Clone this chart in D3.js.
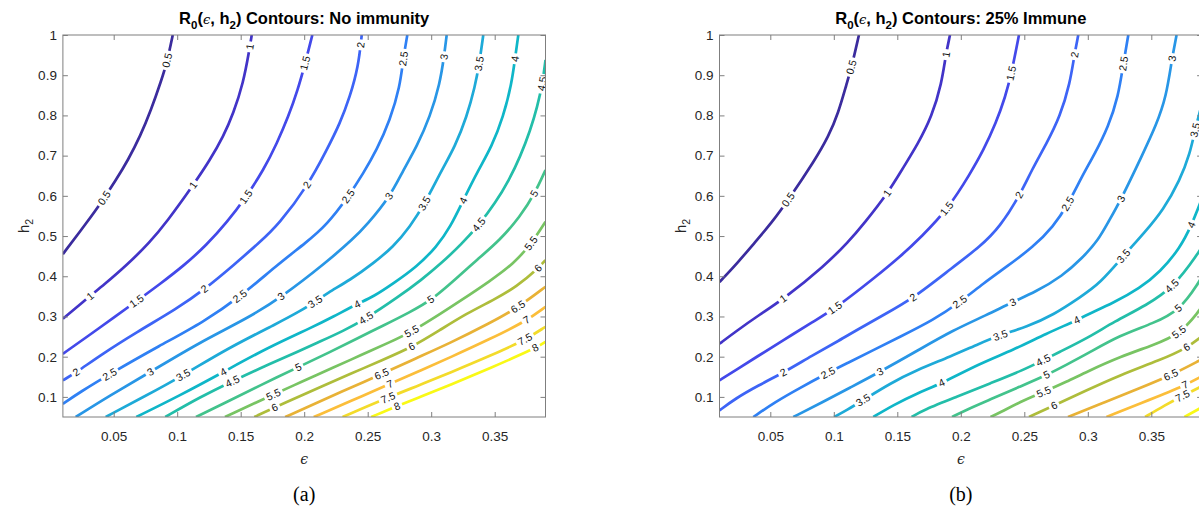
<!DOCTYPE html>
<html><head><meta charset="utf-8">
<script src="https://cdn.jsdelivr.net/npm/d3@7"></script>
<style>body{margin:0;background:#fff;} svg{display:block;}</style>
</head><body>
<svg id="chart" width="1199" height="509"></svg>
<script>
// ---------- data ----------
const contourLevels = [0.5,1,1.5,2,2.5,3,3.5,4,4.5,5,5.5,6,6.5,7,7.5,8];
const epsTicks = [0.05,0.1,0.15,0.2,0.25,0.3,0.35];
const epsTickLabels = ["0.05","0.1","0.15","0.2","0.25","0.3","0.35"];
const hTicks = [0.1,0.2,0.3,0.4,0.5,0.6,0.7,0.8,0.9,1];
const hTickLabels = ["0.1","0.2","0.3","0.4","0.5","0.6","0.7","0.8","0.9","1"];
const epsDomain = [0.01,0.39];
const hDomain = [0.05,1];
const panelTitles = ["No immunity","25% Immune"];
const panelTags = ["(a)","(b)"];

// contour lines [epsilon, h2], one array per level
const noImmunityLines = [
 [[0.0965,1.0],[0.0921,0.9336],[0.0876,0.8881],[0.0794,0.8134],[0.0707,0.7470],[0.0613,0.6891],[0.0518,0.6393],[0.0398,0.5813],[0.0293,0.5356],[0.0100,0.4552]],
 [[0.1587,1.0],[0.1568,0.9627],[0.1520,0.8799],[0.1442,0.8052],[0.1363,0.7470],[0.1258,0.6891],[0.1127,0.6269],[0.0917,0.5348],[0.0786,0.4851],[0.0602,0.4271],[0.0418,0.3774],[0.0313,0.3507],[0.0100,0.2943]],
 [[0.2064,1.0],[0.2008,0.9296],[0.1949,0.8632],[0.1874,0.7960],[0.1786,0.7313],[0.1680,0.6642],[0.1542,0.5970],[0.1394,0.5348],[0.1231,0.4776],[0.1058,0.4279],[0.0864,0.3806],[0.0681,0.3383],[0.0524,0.3027],[0.0287,0.2488],[0.0100,0.2072]],
 [[0.2453,1.0],[0.2426,0.9211],[0.2360,0.8465],[0.2282,0.7803],[0.2177,0.7139],[0.2032,0.6269],[0.1796,0.5274],[0.1652,0.4851],[0.1442,0.4271],[0.1219,0.3682],[0.0996,0.3192],[0.0681,0.2612],[0.0392,0.2032],[0.0209,0.1617],[0.0100,0.1410]],
 [[0.2812,1.0],[0.2780,0.9420],[0.2754,0.8714],[0.2676,0.7886],[0.2571,0.7139],[0.2465,0.6560],[0.2347,0.5978],[0.2177,0.5274],[0.2020,0.4851],[0.1783,0.4271],[0.1494,0.3483],[0.1206,0.2861],[0.0865,0.2281],[0.0471,0.1575],[0.0235,0.1119],[0.0100,0.0828]],
 [[0.3122,1.0],[0.3101,0.9460],[0.3069,0.8798],[0.2991,0.7968],[0.2886,0.7221],[0.2780,0.6642],[0.2676,0.5978],[0.2492,0.5274],[0.2387,0.4933],[0.2177,0.4353],[0.1823,0.3483],[0.1547,0.2943],[0.1180,0.2363],[0.0787,0.1617],[0.0471,0.1037],[0.0201,0.05]],
 [[0.3410,1.0],[0.3379,0.9296],[0.3345,0.8714],[0.3280,0.7968],[0.3187,0.7221],[0.3083,0.6642],[0.2951,0.5813],[0.2833,0.5231],[0.2702,0.4734],[0.2544,0.4321],[0.2361,0.3905],[0.2177,0.3575],[0.2085,0.3358],[0.1967,0.3134],[0.1809,0.2861],[0.1390,0.2197],[0.1048,0.1535],[0.0733,0.0995],[0.0437,0.05]],
 [[0.3686,1.0],[0.3660,0.9420],[0.3634,0.8798],[0.3568,0.7968],[0.3476,0.7221],[0.3371,0.6642],[0.3253,0.5896],[0.3152,0.5231],[0.3043,0.4734],[0.2886,0.4236],[0.2702,0.3823],[0.2544,0.3490],[0.2413,0.3308],[0.2229,0.2993],[0.2072,0.2744],[0.1705,0.2214],[0.1363,0.1617],[0.1022,0.1037],[0.0678,0.05]],
 [[0.39,0.9378],[0.3877,0.8806],[0.3835,0.8209],[0.3781,0.7637],[0.3700,0.6965],[0.3613,0.6393],[0.3505,0.5821],[0.3375,0.5274],[0.3247,0.4826],[0.3082,0.4328],[0.2921,0.3905],[0.2740,0.3483],[0.2477,0.2928],[0.2306,0.2637],[0.2124,0.2376],[0.1967,0.2152],[0.1691,0.1766],[0.1432,0.1386],[0.1180,0.0995],[0.0906,0.05]],
 [[0.39,0.6642],[0.3817,0.6062],[0.3699,0.5480],[0.3542,0.4900],[0.3358,0.4403],[0.3201,0.3955],[0.3004,0.3408],[0.2833,0.3109],[0.2623,0.2774],[0.2413,0.2450],[0.2203,0.2114],[0.1954,0.1741],[0.1652,0.1286],[0.1390,0.0871],[0.1148,0.05]],
 [[0.39,0.5356],[0.3791,0.4818],[0.3646,0.4303],[0.3463,0.3881],[0.3227,0.3383],[0.3069,0.3060],[0.2846,0.2619],[0.2676,0.2363],[0.2439,0.2027],[0.2229,0.1729],[0.1967,0.1356],[0.1757,0.1062],[0.1376,0.05]],
 [[0.39,0.4403],[0.3843,0.4197],[0.3673,0.3739],[0.3489,0.3408],[0.3280,0.3077],[0.3069,0.2662],[0.2846,0.2231],[0.2623,0.1928],[0.2361,0.1567],[0.2124,0.1244],[0.1967,0.1020],[0.1770,0.0746],[0.1607,0.05]],
 [[0.39,0.3739],[0.3686,0.3226],[0.3463,0.2836],[0.3148,0.2338],[0.2872,0.1950],[0.2610,0.1567],[0.2282,0.1112],[0.2046,0.0776],[0.1850,0.05]],
 [[0.39,0.3241],[0.3752,0.2893],[0.3463,0.2438],[0.3148,0.1980],[0.2912,0.1652],[0.2676,0.1326],[0.2361,0.0888],[0.2075,0.05]],
 [[0.39,0.2744],[0.3739,0.2413],[0.3463,0.2020],[0.3148,0.1602],[0.2912,0.1296],[0.2662,0.0988],[0.2302,0.05]],
 [[0.39,0.2371],[0.3818,0.2206],[0.3463,0.1714],[0.3148,0.1296],[0.2912,0.0998],[0.2728,0.0771],[0.2528,0.05]]
];
const noImmunityLabels = [
 [[0.0917,0.9378],[0.0431,0.5938]],
 [[0.1568,0.9709],[0.1127,0.6269],[0.0313,0.3507]],
 [[0.2006,0.9296],[0.1534,0.5978],[0.0681,0.3383]],
 [[0.2453,0.9751],[0.2032,0.6269],[0.1219,0.3682],[0.0209,0.1617]],
 [[0.2780,0.9420],[0.2347,0.5978],[0.1494,0.3483],[0.0465,0.1575]],
 [[0.3101,0.9460],[0.2676,0.5978],[0.1823,0.3483],[0.0787,0.1617]],
 [[0.3379,0.9296],[0.2951,0.5813],[0.2085,0.3358],[0.1048,0.1535]],
 [[0.3660,0.9420],[0.3253,0.5896],[0.2413,0.3308],[0.1363,0.1617]],
 [[0.3857,0.8799],[0.3384,0.5274],[0.2492,0.2928],[0.1432,0.1386]],
 [[0.3817,0.6062],[0.3004,0.3408],[0.1954,0.1741]],
 [[0.3791,0.4818],[0.2846,0.2619],[0.1757,0.1062]],
 [[0.3843,0.4197],[0.2846,0.2231],[0.1770,0.0746]],
 [[0.3686,0.3226],[0.2610,0.1567]],
 [[0.3752,0.2893],[0.2676,0.1326]],
 [[0.3739,0.2413],[0.2662,0.0988]],
 [[0.3818,0.2206],[0.2728,0.0771]]
];
const immuneLines = [
 [[0.1198,1.0],[0.1141,0.9211],[0.1102,0.8799],[0.1035,0.8052],[0.0957,0.7470],[0.0852,0.6891],[0.0642,0.5896],[0.0506,0.5311],[0.0380,0.4851],[0.0248,0.4353],[0.0100,0.3856]],
 [[0.1915,1.0],[0.1881,0.9502],[0.1850,0.8799],[0.1771,0.7968],[0.1665,0.7306],[0.1535,0.6642],[0.1424,0.6062],[0.1238,0.5311],[0.1114,0.4851],[0.0931,0.4271],[0.0602,0.3425],[0.0406,0.3027],[0.0222,0.2612],[0.0100,0.2321]],
 [[0.2458,1.0],[0.2399,0.9047],[0.2351,0.8465],[0.2276,0.7803],[0.2179,0.7139],[0.2076,0.6560],[0.1899,0.5672],[0.1690,0.4983],[0.1522,0.4485],[0.1331,0.3988],[0.1009,0.3192],[0.0831,0.2861],[0.0601,0.2405],[0.0390,0.1990],[0.0243,0.1699],[0.0100,0.1410]],
 [[0.2925,1.0],[0.2894,0.9502],[0.2860,0.8799],[0.2781,0.7968],[0.2676,0.7306],[0.2558,0.6642],[0.2466,0.6020],[0.2309,0.5231],[0.2151,0.4734],[0.1941,0.4236],[0.1626,0.3450],[0.1390,0.3035],[0.1180,0.2662],[0.1049,0.2413],[0.0828,0.2027],[0.0602,0.1600],[0.0406,0.1286],[0.0222,0.0953],[0.0100,0.0664]],
 [[0.3319,1.0],[0.3280,0.9296],[0.3240,0.8465],[0.3161,0.7719],[0.3057,0.7057],[0.2952,0.6475],[0.2846,0.5796],[0.2728,0.5231],[0.2571,0.4734],[0.2361,0.4236],[0.2177,0.3823],[0.1994,0.3358],[0.1783,0.2910],[0.1521,0.2495],[0.1311,0.2164],[0.1102,0.1833],[0.0957,0.1604],[0.0720,0.1201],[0.0537,0.0871],[0.0366,0.05]],
 [[0.3699,1.0],[0.3663,0.9420],[0.3618,0.8465],[0.3539,0.7761],[0.3429,0.7015],[0.3264,0.5920],[0.3161,0.5348],[0.3083,0.4900],[0.2957,0.4453],[0.2800,0.4005],[0.2587,0.3607],[0.2406,0.3358],[0.2204,0.3035],[0.1941,0.2662],[0.1653,0.2139],[0.1364,0.1624],[0.1128,0.1231],[0.0905,0.0858],[0.0681,0.05]],
 [[0.39,0.8308],[0.3844,0.7637],[0.3805,0.7057],[0.3726,0.6393],[0.3594,0.5647],[0.3450,0.5100],[0.3280,0.4502],[0.3096,0.3823],[0.2945,0.3490],[0.2728,0.3035],[0.2519,0.2744],[0.2309,0.2537],[0.2151,0.2331],[0.1915,0.1998],[0.1653,0.1667],[0.1443,0.1336],[0.1232,0.0920],[0.1102,0.0672],[0.1002,0.05]],
 [[0.39,0.5945],[0.3818,0.5274],[0.3726,0.4701],[0.3569,0.4104],[0.3411,0.3706],[0.3201,0.3333],[0.2986,0.3035],[0.2913,0.2903],[0.2676,0.2580],[0.2413,0.2164],[0.2151,0.1833],[0.1850,0.1336],[0.1653,0.1087],[0.1469,0.0796],[0.1311,0.05]],
 [[0.39,0.4751],[0.3876,0.4602],[0.3673,0.3719],[0.3464,0.3284],[0.3201,0.2861],[0.3017,0.2495],[0.2755,0.2082],[0.2650,0.1915],[0.2492,0.1667],[0.2230,0.1336],[0.1968,0.1002],[0.1705,0.0672],[0.1613,0.05]],
 [[0.39,0.4005],[0.3876,0.3856],[0.3726,0.3159],[0.3516,0.2828],[0.3254,0.2537],[0.2991,0.2065],[0.2834,0.1803],[0.2676,0.1542],[0.2466,0.1256],[0.2230,0.0933],[0.2046,0.0684],[0.1931,0.05]],
 [[0.39,0.3259],[0.3876,0.3134],[0.3726,0.2562],[0.3516,0.2289],[0.3254,0.1998],[0.2991,0.1624],[0.2834,0.1376],[0.2650,0.1119],[0.2466,0.0878],[0.2309,0.0609],[0.2234,0.05]],
 [[0.39,0.2512],[0.3780,0.2214],[0.3569,0.1915],[0.3254,0.1542],[0.2978,0.1144],[0.2734,0.0784],[0.2537,0.05]],
 [[0.39,0.1940],[0.3655,0.1535],[0.3411,0.1219],[0.3136,0.0871],[0.2844,0.05]],
 [[0.39,0.1517],[0.3765,0.1286],[0.3490,0.0933],[0.3147,0.05]],
 [[0.39,0.1269],[0.3742,0.1020],[0.3608,0.0796],[0.3451,0.05]],
 [[0.39,0.0746],[0.3761,0.05]]
];
const immuneLabels = [
 [[0.1141,0.9211],[0.0642,0.5896]],
 [[0.1881,0.9502],[0.1424,0.6062],[0.0602,0.3425]],
 [[0.2395,0.9047],[0.1899,0.5672],[0.1009,0.3192]],
 [[0.2894,0.9502],[0.2466,0.6020],[0.1626,0.3450],[0.0602,0.1600]],
 [[0.3280,0.9296],[0.2846,0.5796],[0.1994,0.3358],[0.0957,0.1604]],
 [[0.3663,0.9420],[0.3264,0.5920],[0.2406,0.3358],[0.1364,0.1624]],
 [[0.3844,0.7637],[0.3280,0.4502],[0.2309,0.2537],[0.1232,0.0920]],
 [[0.3818,0.5274],[0.2913,0.2903],[0.1850,0.1336]],
 [[0.3673,0.3719],[0.2650,0.1915]],
 [[0.3726,0.3159],[0.2676,0.1542]],
 [[0.3726,0.2562],[0.2650,0.1119]],
 [[0.3780,0.2214],[0.2734,0.0784]],
 [[0.3655,0.1535]],
 [[0.3765,0.1286]],
 [[0.3742,0.1020]],
 []
];

// ---------- style ----------
const levelColors = ["#3b2c9e","#4234c8","#4349ea","#3d64f6","#2f80f4","#2896e6","#1eaad8","#0fb6c8",
                     "#23bea9","#43c38c","#78c463","#aebd3b","#e8b236","#fbbe3a","#f3db2a","#f9f916"];
const axisColor = "#7f7f7f", textColor = "#262626";
const plotW = 482.6, plotTop = 35, plotBottom = 417;
const panelLefts = [62.9, 719.5];

const svg = d3.select("#chart");
const defs = svg.append("defs");

// nearest point on a rendered path (sampled), with tangent angle
function nearestOnPath(node, p){
  const L = node.getTotalLength();
  let best = {d: Infinity, s: 0};
  for(let s=0; s<=L; s+=1){
    const q = node.getPointAtLength(s);
    const d = Math.hypot(q.x-p[0], q.y-p[1]);
    if(d < best.d) best = {d, s, x:q.x, y:q.y};
  }
  const a = node.getPointAtLength(Math.max(0, best.s-4));
  const b = node.getPointAtLength(Math.min(L, best.s+4));
  best.ang = Math.atan2(b.y-a.y, b.x-a.x);
  return best;
}

[noImmunityLines, immuneLines].forEach((lines, pi) => {
  const labels = pi===0 ? noImmunityLabels : immuneLabels;
  const left = panelLefts[pi];
  const x = d3.scaleLinear().domain(epsDomain).range([left, left+plotW]);
  const y = d3.scaleLinear().domain(hDomain).range([plotBottom, plotTop]);
  const cx = left + plotW/2;
  const clipId = "clip"+pi;
  defs.append("clipPath").attr("id", clipId).append("rect")
    .attr("x", left).attr("y", plotTop).attr("width", plotW).attr("height", plotBottom-plotTop);

  const g = svg.append("g");
  const cg = g.append("g").attr("clip-path", `url(#${clipId})`);
  const lineGen = d3.line().x(d=>x(d[0])).y(d=>y(d[1])).curve(d3.curveBasis);

  const paths = lines.map((pts, i) => {
    if(pts.length<2) return null;
    return cg.append("path").attr("d", lineGen(pts)).attr("fill","none")
      .attr("stroke", levelColors[i]).attr("stroke-width", 2.7)
      .attr("stroke-linejoin","round").attr("stroke-linecap","butt").node();
  });

  // inline labels
  lines.forEach((pts, i) => {
    if(!paths[i]) return;
    (labels[i]||[]).forEach(lp => {
      const p = [x(lp[0]), y(lp[1])];
      const n = nearestOnPath(paths[i], p);
      let deg = n.ang*180/Math.PI;
      if(deg>90) deg-=180;
      if(deg<-90) deg+=180;
      const lg = cg.append("g").attr("transform", `translate(${n.x},${n.y}) rotate(${deg})`);
      const rect = lg.append("rect").attr("fill","#fff");
      const t = lg.append("text").text(String(contourLevels[i]))
        .attr("text-anchor","middle").attr("dy","0.35em")
        .attr("font-family","'Liberation Sans', Arial, sans-serif").attr("font-size","10.5px")
        .attr("fill","#111");
      const w = t.node().getComputedTextLength();
      rect.attr("x", -w/2-2.5).attr("y", -4.5).attr("width", w+5).attr("height", 9);
    });
  });

  // axes
  const ax = g.append("g").attr("font-family","'Liberation Sans', Arial, sans-serif");
  const xb = ax.append("g").attr("transform",`translate(0,${plotBottom})`)
    .call(d3.axisBottom(x).tickValues(epsTicks).tickFormat((d,i)=>epsTickLabels[i])
      .tickSizeInner(-5).tickSizeOuter(0).tickPadding(14));
  const xt = ax.append("g").attr("transform",`translate(0,${plotTop})`)
    .call(d3.axisTop(x).tickValues(epsTicks).tickFormat("").tickSizeInner(-5).tickSizeOuter(0));
  const yl = ax.append("g").attr("transform",`translate(${left},0)`)
    .call(d3.axisLeft(y).tickValues(hTicks).tickFormat((d,i)=>hTickLabels[i])
      .tickSizeInner(-5).tickSizeOuter(0).tickPadding(6));
  const yr = ax.append("g").attr("transform",`translate(${left+plotW},0)`)
    .call(d3.axisRight(y).tickValues(hTicks).tickFormat("").tickSizeInner(-5).tickSizeOuter(0));
  [xb,xt,yl,yr].forEach(a => {
    a.select(".domain").remove();
    a.selectAll(".tick line").attr("stroke", axisColor);
    a.selectAll(".tick text").attr("fill", textColor).attr("font-size","13.5px")
      .attr("font-family","'Liberation Sans', Arial, sans-serif");
  });
  ax.append("rect").attr("x", left).attr("y", plotTop).attr("width", plotW).attr("height", plotBottom-plotTop)
    .attr("fill","none").attr("stroke", axisColor).attr("stroke-width",1);

  // title
  const title = g.append("text").attr("x", cx).attr("y", 24).attr("text-anchor","middle")
    .attr("font-family","'Liberation Sans', Arial, sans-serif").attr("font-size","16.5px")
    .attr("font-weight","bold").attr("fill","#000");
  title.append("tspan").text("R");
  title.append("tspan").text("0").attr("font-size","11.5px").attr("dy", 4.5);
  title.append("tspan").text("(").attr("dy", -4.5);
  title.append("tspan").text("\u03F5").attr("font-family","'DejaVu Serif', serif").attr("font-weight","normal")
    .attr("font-style","italic").attr("font-size","13px");
  title.append("tspan").text(", h");
  title.append("tspan").text("2").attr("font-size","11.5px").attr("dy", 4.5);
  title.append("tspan").text(") Contours: " + panelTitles[pi]).attr("dy", -4.5);

  // x label
  g.append("text").attr("x", cx).attr("y", 464).attr("text-anchor","middle")
    .attr("font-family","'DejaVu Serif', serif").attr("font-style","italic").attr("font-size","14px")
    .attr("fill", textColor).text("\u03F5");

  // y label
  const ylab = g.append("text").attr("transform", `translate(${left-34},${(plotTop+plotBottom)/2}) rotate(-90)`)
    .attr("text-anchor","middle").attr("font-family","'Liberation Sans', Arial, sans-serif")
    .attr("font-size","15px").attr("fill", textColor);
  ylab.append("tspan").text("h");
  ylab.append("tspan").text("2").attr("font-size","10.5px").attr("dy", 4);

  // panel tag
  g.append("text").attr("x", cx).attr("y", 501).attr("text-anchor","middle")
    .attr("font-family","'Liberation Serif', 'Times New Roman', serif").attr("font-size","20px")
    .attr("fill","#000").text(panelTags[pi]);
});
</script>
</body></html>
